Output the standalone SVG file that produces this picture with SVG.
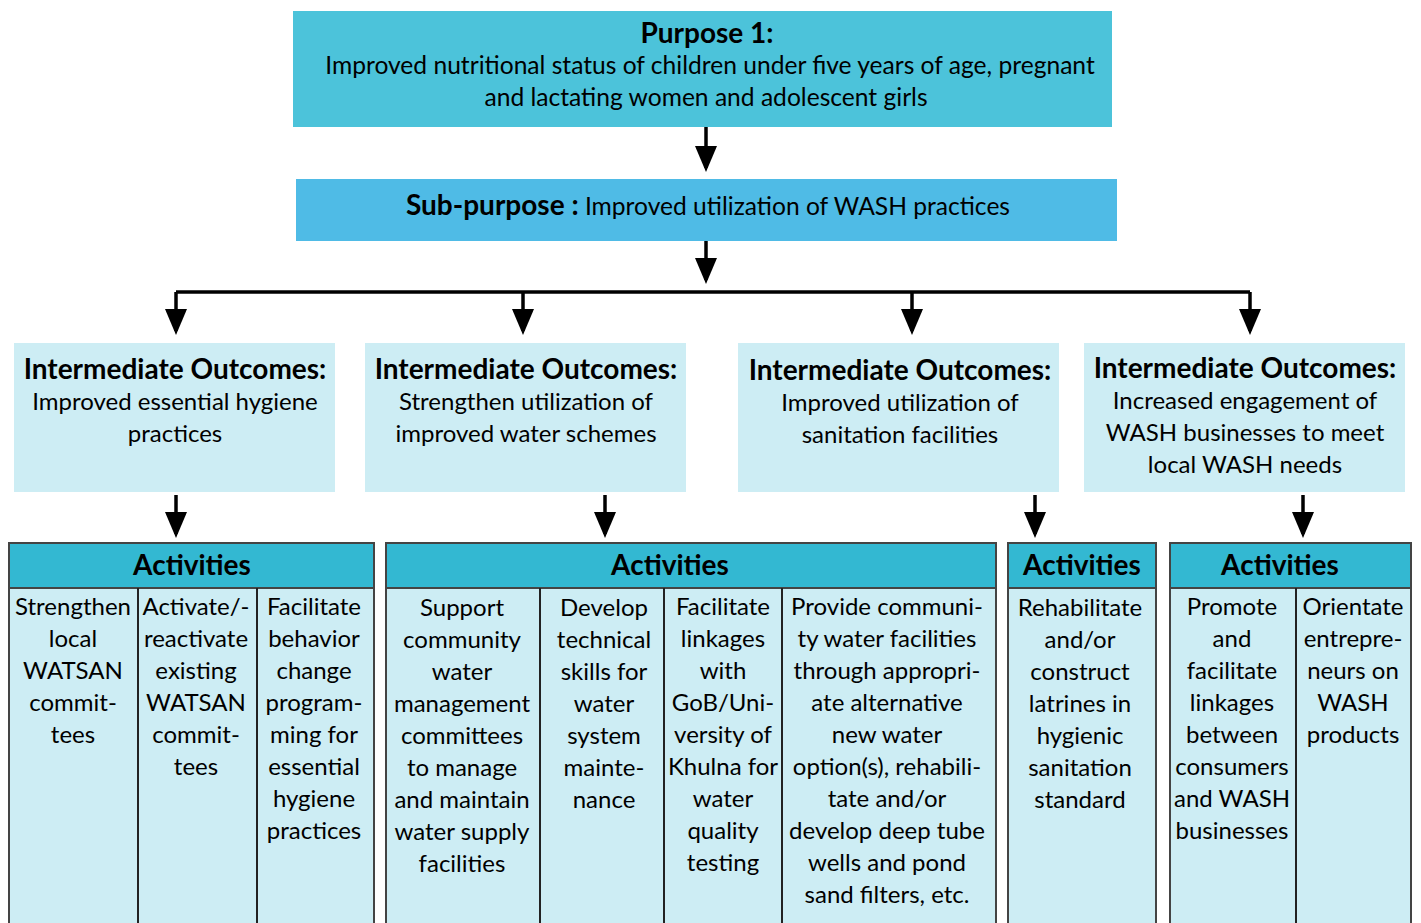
<svg xmlns="http://www.w3.org/2000/svg" width="1421" height="923" viewBox="0 0 1421 923">
<style>
text{font-family:Lato,"Liberation Sans",sans-serif;font-size:24px;fill:#000;text-anchor:middle}
.b{font-weight:bold;font-size:28px}
.t{font-size:24.6px}
.purpose{fill:#4cc3da}
.sub{fill:#4fbbe6}
.io{fill:#cdedf4}
.hdr{fill:#33b8d2;stroke:#444;stroke-width:2}
.body{fill:#cdedf4;stroke:#444;stroke-width:2}
.div{stroke:#222;stroke-width:2}
.con{stroke:#000;stroke-width:3.5;fill:none}
.arr{stroke:#000;stroke-width:3.5;fill:none;marker-end:url(#ah)}
</style>
<defs>
<marker id="ah" viewBox="0 0 26 22" refX="22" refY="11" markerWidth="26" markerHeight="22" markerUnits="userSpaceOnUse" orient="auto">
<path d="M0,0 L26,11 L0,22 z" fill="#000"/>
</marker>
</defs>
<rect width="1421" height="923" fill="#fff"/>

<g id="connectors">
<path class="arr" d="M706,127 V168"/>
<path class="arr" d="M706,241 V280"/>
<path class="con" d="M176,292 H1250"/>
<path class="arr" d="M176,292 V331"/>
<path class="arr" d="M523,292 V331"/>
<path class="arr" d="M912,292 V331"/>
<path class="arr" d="M1250,292 V331"/>
<path class="arr" d="M176,495 V534"/>
<path class="arr" d="M605,495 V534"/>
<path class="arr" d="M1035,495 V534"/>
<path class="arr" d="M1303,495 V534"/>
</g>

<g id="purpose">
<rect class="purpose" x="293" y="11" width="819" height="116"/>
<text class="b" x="707" y="43">Purpose 1:</text>
<text class="t" x="710" y="74">Improved nutritional status of children under five years of age, pregnant</text>
<text class="t" x="706" y="106">and lactating women and adolescent girls</text>
</g>

<g id="subpurpose">
<rect class="sub" x="296" y="179" width="821" height="62"/>
<text class="t" x="708" y="215"><tspan class="b">Sub-purpose :</tspan> Improved utilization of WASH practices</text>
</g>

<g id="io1">
<rect class="io" x="14" y="343" width="321" height="149"/>
<text class="b" x="175" y="379">Intermediate Outcomes:</text>
<text x="175" y="410">Improved essential hygiene</text>
<text x="175" y="442">practices</text>
</g>
<g id="io2">
<rect class="io" x="365" y="343" width="321" height="149"/>
<text class="b" x="526" y="379">Intermediate Outcomes:</text>
<text x="526" y="410">Strengthen utilization of</text>
<text x="526" y="442">improved water schemes</text>
</g>
<g id="io3">
<rect class="io" x="738" y="343" width="321" height="149"/>
<text class="b" x="900" y="380">Intermediate Outcomes:</text>
<text x="900" y="411">Improved utilization of</text>
<text x="900" y="443">sanitation facilities</text>
</g>
<g id="io4">
<rect class="io" x="1084" y="343" width="321" height="149"/>
<text class="b" x="1245" y="378">Intermediate Outcomes:</text>
<text x="1245" y="409">Increased engagement of</text>
<text x="1245" y="441">WASH businesses to meet</text>
<text x="1245" y="473">local WASH needs</text>
</g>

<g id="activities1">
<rect class="body" x="9" y="588" width="365" height="345"/>
<rect class="hdr" x="9" y="543" width="365" height="45"/>
<text class="b" x="192" y="575">Activities</text>
<line class="div" x1="138" y1="588" x2="138" y2="923"/>
<line class="div" x1="257" y1="588" x2="257" y2="923"/>
<text x="73"><tspan x="73" y="615">Strengthen</tspan><tspan x="73" y="647">local</tspan><tspan x="73" y="679">WATSAN</tspan><tspan x="73" y="711">commit-</tspan><tspan x="73" y="743">tees</tspan></text>
<text x="196"><tspan x="196" y="615">Activate/-</tspan><tspan x="196" y="647">reactivate</tspan><tspan x="196" y="679">existing</tspan><tspan x="196" y="711">WATSAN</tspan><tspan x="196" y="743">commit-</tspan><tspan x="196" y="775">tees</tspan></text>
<text x="314"><tspan x="314" y="615">Facilitate</tspan><tspan x="314" y="647">behavior</tspan><tspan x="314" y="679">change</tspan><tspan x="314" y="711">program-</tspan><tspan x="314" y="743">ming for</tspan><tspan x="314" y="775">essential</tspan><tspan x="314" y="807">hygiene</tspan><tspan x="314" y="839">practices</tspan></text>
</g>

<g id="activities2">
<rect class="body" x="386" y="588" width="610" height="345"/>
<rect class="hdr" x="386" y="543" width="610" height="45"/>
<text class="b" x="670" y="575">Activities</text>
<line class="div" x1="540" y1="588" x2="540" y2="923"/>
<line class="div" x1="664" y1="588" x2="664" y2="923"/>
<line class="div" x1="782" y1="588" x2="782" y2="923"/>
<text x="462"><tspan x="462" y="616">Support</tspan><tspan x="462" y="648">community</tspan><tspan x="462" y="680">water</tspan><tspan x="462" y="712">management</tspan><tspan x="462" y="744">committees</tspan><tspan x="462" y="776">to manage</tspan><tspan x="462" y="808">and maintain</tspan><tspan x="462" y="840">water supply</tspan><tspan x="462" y="872">facilities</tspan></text>
<text x="604"><tspan x="604" y="616">Develop</tspan><tspan x="604" y="648">technical</tspan><tspan x="604" y="680">skills for</tspan><tspan x="604" y="712">water</tspan><tspan x="604" y="744">system</tspan><tspan x="604" y="776">mainte-</tspan><tspan x="604" y="808">nance</tspan></text>
<text x="723"><tspan x="723" y="615">Facilitate</tspan><tspan x="723" y="647">linkages</tspan><tspan x="723" y="679">with</tspan><tspan x="723" y="711">GoB/Uni-</tspan><tspan x="723" y="743">versity of</tspan><tspan x="723" y="775">Khulna for</tspan><tspan x="723" y="807">water</tspan><tspan x="723" y="839">quality</tspan><tspan x="723" y="871">testing</tspan></text>
<text x="887"><tspan x="887" y="615">Provide communi-</tspan><tspan x="887" y="647">ty water facilities</tspan><tspan x="887" y="679">through appropri-</tspan><tspan x="887" y="711">ate alternative</tspan><tspan x="887" y="743">new water</tspan><tspan x="887" y="775">option(s), rehabili-</tspan><tspan x="887" y="807">tate and/or</tspan><tspan x="887" y="839">develop deep tube</tspan><tspan x="887" y="871">wells and pond</tspan><tspan x="887" y="903">sand filters, etc.</tspan></text>
</g>

<g id="activities3">
<rect class="body" x="1008" y="588" width="148" height="345"/>
<rect class="hdr" x="1008" y="543" width="148" height="45"/>
<text class="b" x="1082" y="575">Activities</text>
<text x="1080"><tspan x="1080" y="616">Rehabilitate</tspan><tspan x="1080" y="648">and/or</tspan><tspan x="1080" y="680">construct</tspan><tspan x="1080" y="712">latrines in</tspan><tspan x="1080" y="744">hygienic</tspan><tspan x="1080" y="776">sanitation</tspan><tspan x="1080" y="808">standard</tspan></text>
</g>

<g id="activities4">
<rect class="body" x="1170" y="588" width="241" height="345"/>
<rect class="hdr" x="1170" y="543" width="241" height="45"/>
<text class="b" x="1280" y="575">Activities</text>
<line class="div" x1="1296" y1="588" x2="1296" y2="923"/>
<text x="1232"><tspan x="1232" y="615">Promote</tspan><tspan x="1232" y="647">and</tspan><tspan x="1232" y="679">facilitate</tspan><tspan x="1232" y="711">linkages</tspan><tspan x="1232" y="743">between</tspan><tspan x="1232" y="775">consumers</tspan><tspan x="1232" y="807">and WASH</tspan><tspan x="1232" y="839">businesses</tspan></text>
<text x="1353"><tspan x="1353" y="615">Orientate</tspan><tspan x="1353" y="647">entrepre-</tspan><tspan x="1353" y="679">neurs on</tspan><tspan x="1353" y="711">WASH</tspan><tspan x="1353" y="743">products</tspan></text>
</g>
</svg>
